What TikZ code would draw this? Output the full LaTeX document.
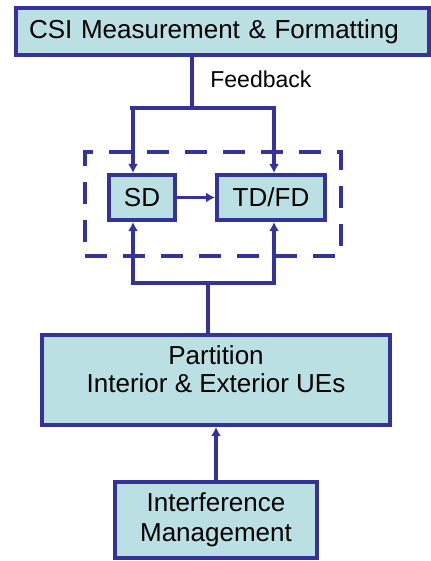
\documentclass[tikz,border=0pt]{standalone}
\usepackage{fontspec}
\setmainfont{Liberation Sans}
\usetikzlibrary{arrows.meta}
\definecolor{edgeblue}{RGB}{51,51,153}
\definecolor{boxfill}{RGB}{186,224,228}
\begin{document}
\begin{tikzpicture}[x=0.5pt, y=-0.5pt,
    block/.style={rectangle, draw=edgeblue, fill=boxfill, line width=2pt,
      inner sep=0pt, align=center,
      font=\fontsize{13pt}{15pt}\selectfont},
    trunk/.style={draw=edgeblue, line width=2.25pt},
    branch/.style={draw=edgeblue, line width=1.6pt},
    >={Latex[length=4.5pt,width=5pt]}]
    \useasboundingbox (0,0) rectangle (431,561);
    \begin{scope}[every node/.style={block}]
      \node [minimum height=23.5pt, text width=193.5pt, inner xsep=6.5pt,
        align=left] (csi) at (222.5,31.5) {CSI Measurement \&
        Formatting}; \node [minimum width=33pt, minimum height=22.5pt]
      (sd) at (142,197.5) {SD}; \node [minimum width=54pt, minimum
      height=22.5pt] (td) at (271,197.5) {TD/FD}; \node [minimum
      width=174pt, minimum height=45pt] (part) at (216,380)
      {\raisebox{4pt}[\height][\depth]{\begin{tabular}{@{}c@{}}Partition\\[-1pt]
            Interior \& Exterior UEs\end{tabular}}}; \node [minimum
      width=101pt, minimum height=38pt] (intf) at (216,520)
      {Interference\\Management};
    \end{scope}
    \node [draw=edgeblue, line width=1.75pt, dash pattern=on 11pt off 8pt,
    minimum width=128pt, minimum height=52pt, inner sep=0pt] (grp) at
    (213,204) {};
    \node [anchor=west, inner sep=0pt, font=\fontsize{11.5pt}{13pt}\selectfont]
    (fb) at (210,79) {Feedback};
    \coordinate (fbj) at (192,108); \coordinate (sdin) at (133,108);
    \coordinate (tdin) at (274,108); \coordinate (pj) at (208,283);
    \coordinate (sdout) at (133,283); \coordinate (tdout) at (274,283);
    \begin{scope}[->]
      \draw [trunk, -] (csi.south -| fbj) -- (fbj); \draw [trunk, -]
      ([xshift=-1.6pt]sdin) -- ([xshift=0.8pt]tdin); \draw [branch]
      (sdin) -- (sdin |- sd.north); \draw [branch] (tdin) -- (tdin |-
      td.north); \draw [draw=edgeblue, line width=1pt] (sd) -- (td);
      \draw [branch] (sdout) -- (sdout |- sd.south); \draw [branch]
      (tdout) -- (tdout |- td.south); \draw [trunk, -]
      ([xshift=-0.8pt]sdout) -- ([xshift=0.8pt]tdout); \draw [trunk, -]
      (pj) -- (pj |- part.north); \draw [trunk] (intf) -- (part);
    \end{scope}
  \end{tikzpicture}
\end{document}
